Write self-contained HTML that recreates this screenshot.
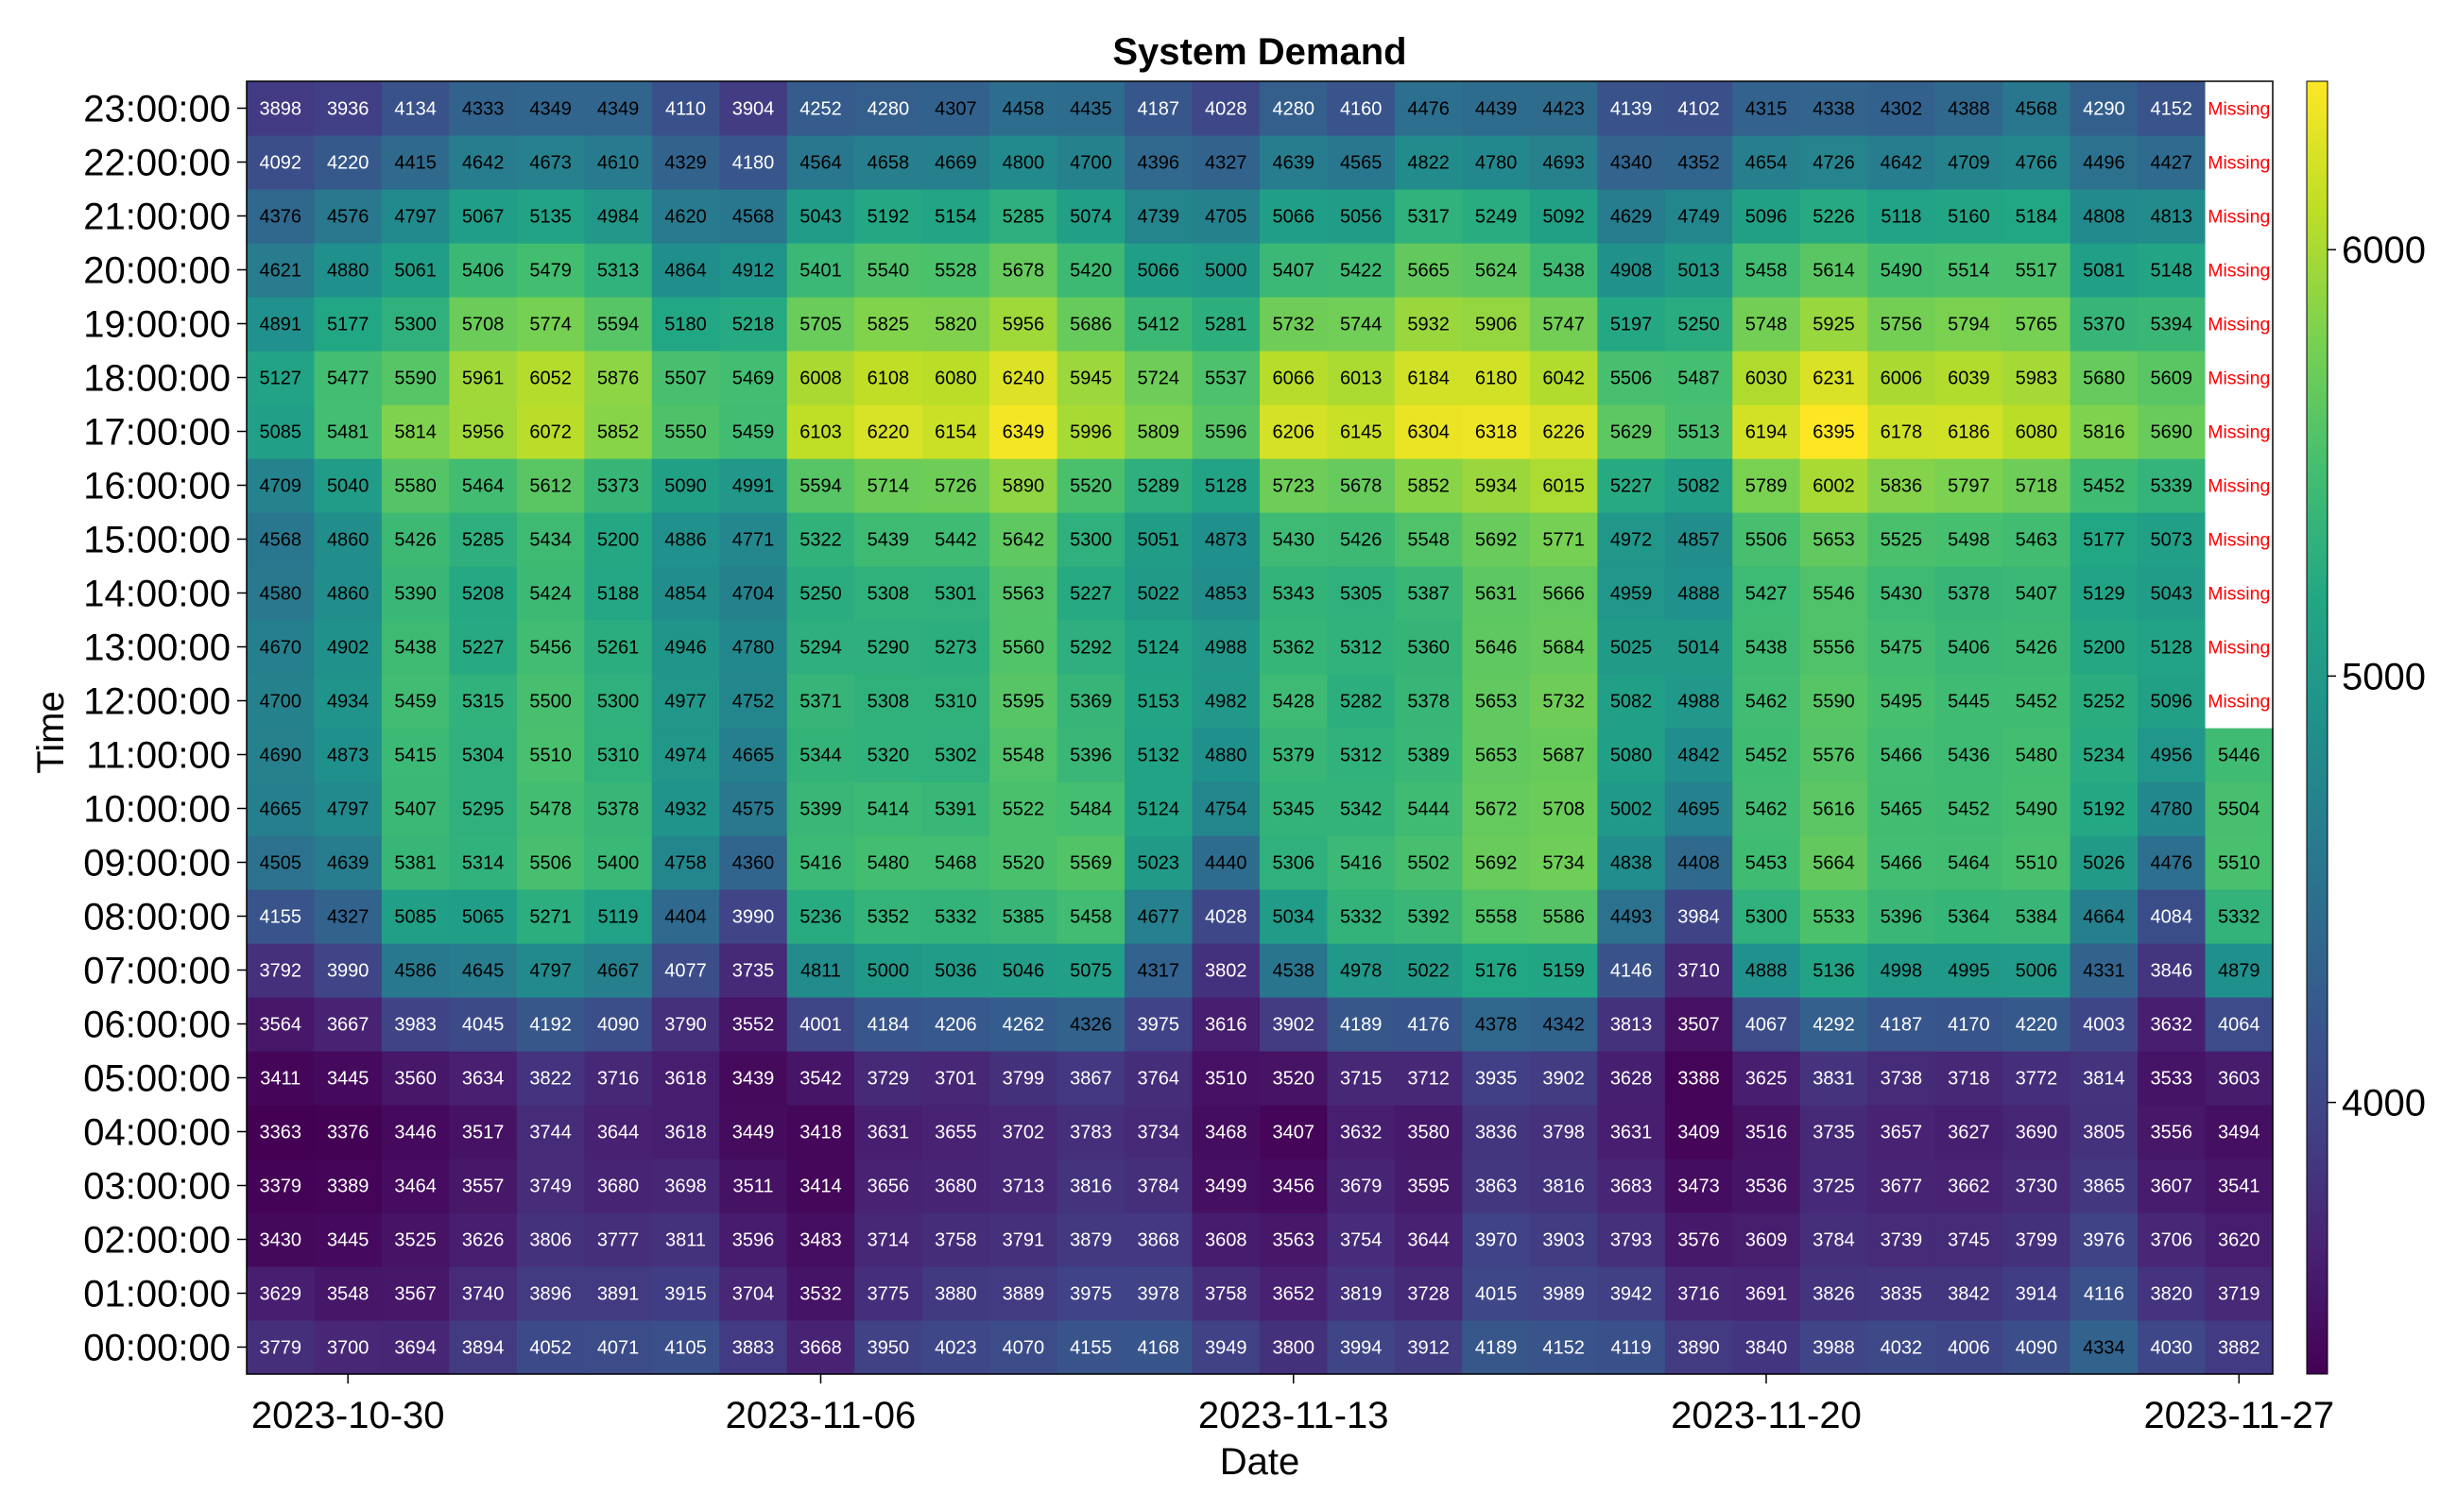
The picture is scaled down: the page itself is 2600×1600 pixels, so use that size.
<!DOCTYPE html>
<html><head><meta charset="utf-8"><style>
html,body{margin:0;padding:0;background:#fff;}
svg{display:block;font-family:"Liberation Sans","DejaVu Sans",sans-serif;}
</style></head><body>
<svg id="chart" width="2600" height="1600" viewBox="0 0 2600 1600" xmlns="http://www.w3.org/2000/svg">
<rect width="2600" height="1600" fill="#fff"/>
<text x="1333" y="68" text-anchor="middle" font-size="40" font-weight="bold">System Demand</text>
<text x="1333" y="1560" text-anchor="middle" font-size="40">Date</text>
<text transform="translate(67,775) rotate(-90)" text-anchor="middle" font-size="40">Time</text>
<g id="cells"></g>
<g id="yaxis"></g>
<g id="xaxis"></g>
<g id="cbar"></g>
</svg>
<script>
const dates = ["2023-10-29","2023-10-30","2023-10-31","2023-11-01","2023-11-02","2023-11-03","2023-11-04","2023-11-05","2023-11-06","2023-11-07","2023-11-08","2023-11-09","2023-11-10","2023-11-11","2023-11-12","2023-11-13","2023-11-14","2023-11-15","2023-11-16","2023-11-17","2023-11-18","2023-11-19","2023-11-20","2023-11-21","2023-11-22","2023-11-23","2023-11-24","2023-11-25","2023-11-26","2023-11-27"];
const hours = ["00:00:00","01:00:00","02:00:00","03:00:00","04:00:00","05:00:00","06:00:00","07:00:00","08:00:00","09:00:00","10:00:00","11:00:00","12:00:00","13:00:00","14:00:00","15:00:00","16:00:00","17:00:00","18:00:00","19:00:00","20:00:00","21:00:00","22:00:00","23:00:00"];
const xTickLabels = ["2023-10-30","2023-11-06","2023-11-13","2023-11-20","2023-11-27"];
const cbarTicks = [4000,5000,6000];
const M = null;
const h00=[3779,3700,3694,3894,4052,4071,4105,3883,3668,3950,4023,4070,4155,4168,3949,3800,3994,3912,4189,4152,4119,3890,3840,3988,4032,4006,4090,4334,4030,3882];
const h01=[3629,3548,3567,3740,3896,3891,3915,3704,3532,3775,3880,3889,3975,3978,3758,3652,3819,3728,4015,3989,3942,3716,3691,3826,3835,3842,3914,4116,3820,3719];
const h02=[3430,3445,3525,3626,3806,3777,3811,3596,3483,3714,3758,3791,3879,3868,3608,3563,3754,3644,3970,3903,3793,3576,3609,3784,3739,3745,3799,3976,3706,3620];
const h03=[3379,3389,3464,3557,3749,3680,3698,3511,3414,3656,3680,3713,3816,3784,3499,3456,3679,3595,3863,3816,3683,3473,3536,3725,3677,3662,3730,3865,3607,3541];
const h04=[3363,3376,3446,3517,3744,3644,3618,3449,3418,3631,3655,3702,3783,3734,3468,3407,3632,3580,3836,3798,3631,3409,3516,3735,3657,3627,3690,3805,3556,3494];
const h05=[3411,3445,3560,3634,3822,3716,3618,3439,3542,3729,3701,3799,3867,3764,3510,3520,3715,3712,3935,3902,3628,3388,3625,3831,3738,3718,3772,3814,3533,3603];
const h06=[3564,3667,3983,4045,4192,4090,3790,3552,4001,4184,4206,4262,4326,3975,3616,3902,4189,4176,4378,4342,3813,3507,4067,4292,4187,4170,4220,4003,3632,4064];
const h07=[3792,3990,4586,4645,4797,4667,4077,3735,4811,5000,5036,5046,5075,4317,3802,4538,4978,5022,5176,5159,4146,3710,4888,5136,4998,4995,5006,4331,3846,4879];
const h08=[4155,4327,5085,5065,5271,5119,4404,3990,5236,5352,5332,5385,5458,4677,4028,5034,5332,5392,5558,5586,4493,3984,5300,5533,5396,5364,5384,4664,4084,5332];
const h09=[4505,4639,5381,5314,5506,5400,4758,4360,5416,5480,5468,5520,5569,5023,4440,5306,5416,5502,5692,5734,4838,4408,5453,5664,5466,5464,5510,5026,4476,5510];
const h10=[4665,4797,5407,5295,5478,5378,4932,4575,5399,5414,5391,5522,5484,5124,4754,5345,5342,5444,5672,5708,5002,4695,5462,5616,5465,5452,5490,5192,4780,5504];
const h11=[4690,4873,5415,5304,5510,5310,4974,4665,5344,5320,5302,5548,5396,5132,4880,5379,5312,5389,5653,5687,5080,4842,5452,5576,5466,5436,5480,5234,4956,5446];
const h12=[4700,4934,5459,5315,5500,5300,4977,4752,5371,5308,5310,5595,5369,5153,4982,5428,5282,5378,5653,5732,5082,4988,5462,5590,5495,5445,5452,5252,5096,M];
const h13=[4670,4902,5438,5227,5456,5261,4946,4780,5294,5290,5273,5560,5292,5124,4988,5362,5312,5360,5646,5684,5025,5014,5438,5556,5475,5406,5426,5200,5128,M];
const h14=[4580,4860,5390,5208,5424,5188,4854,4704,5250,5308,5301,5563,5227,5022,4853,5343,5305,5387,5631,5666,4959,4888,5427,5546,5430,5378,5407,5129,5043,M];
const h15=[4568,4860,5426,5285,5434,5200,4886,4771,5322,5439,5442,5642,5300,5051,4873,5430,5426,5548,5692,5771,4972,4857,5506,5653,5525,5498,5463,5177,5073,M];
const h16=[4709,5040,5580,5464,5612,5373,5090,4991,5594,5714,5726,5890,5520,5289,5128,5723,5678,5852,5934,6015,5227,5082,5789,6002,5836,5797,5718,5452,5339,M];
const h17=[5085,5481,5814,5956,6072,5852,5550,5459,6103,6220,6154,6349,5996,5809,5596,6206,6145,6304,6318,6226,5629,5513,6194,6395,6178,6186,6080,5816,5690,M];
const h18=[5127,5477,5590,5961,6052,5876,5507,5469,6008,6108,6080,6240,5945,5724,5537,6066,6013,6184,6180,6042,5506,5487,6030,6231,6006,6039,5983,5680,5609,M];
const h19=[4891,5177,5300,5708,5774,5594,5180,5218,5705,5825,5820,5956,5686,5412,5281,5732,5744,5932,5906,5747,5197,5250,5748,5925,5756,5794,5765,5370,5394,M];
const h20=[4621,4880,5061,5406,5479,5313,4864,4912,5401,5540,5528,5678,5420,5066,5000,5407,5422,5665,5624,5438,4908,5013,5458,5614,5490,5514,5517,5081,5148,M];
const h21=[4376,4576,4797,5067,5135,4984,4620,4568,5043,5192,5154,5285,5074,4739,4705,5066,5056,5317,5249,5092,4629,4749,5096,5226,5118,5160,5184,4808,4813,M];
const h22=[4092,4220,4415,4642,4673,4610,4329,4180,4564,4658,4669,4800,4700,4396,4327,4639,4565,4822,4780,4693,4340,4352,4654,4726,4642,4709,4766,4496,4427,M];
const h23=[3898,3936,4134,4333,4349,4349,4110,3904,4252,4280,4307,4458,4435,4187,4028,4280,4160,4476,4439,4423,4139,4102,4315,4338,4302,4388,4568,4290,4152,M];
const values=[h00,h01,h02,h03,h04,h05,h06,h07,h08,h09,h10,h11,h12,h13,h14,h15,h16,h17,h18,h19,h20,h21,h22,h23];

const NS="http://www.w3.org/2000/svg";
const L=261,R=2405,T=86,B=1454;
const cw=(R-L)/dates.length, ch=(B-T)/hours.length;
let vmin=Infinity,vmax=-Infinity;
values.forEach(r=>r.forEach(v=>{if(v!==null){vmin=Math.min(vmin,v);vmax=Math.max(vmax,v);}}));
const dayMs=86400000, d0=Date.parse(dates[0]);
function xScale(dateStr){return L+((Date.parse(dateStr)-d0)/dayMs+0.5)*cw;}
function yScale(i){return B-(i+0.5)*ch;}
const vir=[[68,1,84],[72,35,116],[64,67,135],[52,94,141],[41,120,142],[32,144,140],[34,167,132],[68,190,112],[121,209,81],[189,222,38],[253,231,37]];
function color(v){let t=(v-vmin)/(vmax-vmin);t=Math.max(0,Math.min(1,t));const p=t*(vir.length-1);const i=Math.min(Math.floor(p),vir.length-2);const f=p-i;const a=vir[i],b=vir[i+1];return `rgb(${[0,1,2].map(k=>Math.round(a[k]+(b[k]-a[k])*f)).join(",")})`;}
function mk(tag,attrs,parent,text){const e=document.createElementNS(NS,tag);for(const k in attrs)e.setAttribute(k,attrs[k]);if(text!==undefined)e.textContent=text;parent.appendChild(e);return e;}

const cells=document.getElementById('cells');
values.forEach((row,i)=>{row.forEach((v,j)=>{
  const cx=xScale(dates[j]), cy=yScale(i);
  const r=mk('rect',{x:cx-cw/2,y:cy-ch/2,width:cw+0.6,height:ch+0.6,fill:v===null?'#ffffff':color(v)},cells);
  
  
  const t=mk('text',{x:cx,y:cy+7,'text-anchor':'middle','font-size':v===null?19.5:20,fill:v===null?'#ff0000':(v<4300?'#ffffff':'#000000')},cells,v===null?'Missing':String(v));
  
  
});});
mk('rect',{x:L,y:T,width:R-L,height:B-T,fill:'none',stroke:'#000','stroke-width':1.5},cells);

const ya=document.getElementById('yaxis');
hours.forEach((h,i)=>{const y=yScale(i);
  mk('line',{x1:L-10,x2:L,y1:y,y2:y,stroke:'#000','stroke-width':1.5},ya);
  const t=mk('text',{x:L-17,y:y+14,'text-anchor':'end','font-size':40},ya,h);
  
  
});
const xa=document.getElementById('xaxis');
xTickLabels.forEach(d=>{const x=xScale(d);
  mk('line',{x1:x,x2:x,y1:B,y2:B+10,stroke:'#000','stroke-width':1.5},xa);
  const t=mk('text',{x:x,y:B+57,'text-anchor':'middle','font-size':40},xa,d);
  
  
});

const cb=document.getElementById('cbar');
const CX=2441,CW=22;
const defs=mk('defs',{},cb);
const g=mk('linearGradient',{id:'vg',x1:0,y1:1,x2:0,y2:0},defs);
vir.forEach((c,i)=>mk('stop',{offset:i/(vir.length-1),'stop-color':`rgb(${c.join(',')})`},g));
mk('rect',{x:CX,y:T,width:CW,height:B-T,fill:'url(#vg)',stroke:'#000','stroke-width':1},cb);
function cScale(v){return B-(v-vmin)/(vmax-vmin)*(B-T);}
cbarTicks.forEach(v=>{const y=cScale(v);
  mk('line',{x1:CX+CW,x2:CX+CW+9,y1:y,y2:y,stroke:'#000','stroke-width':1.5},cb);
  const t=mk('text',{x:CX+CW+15,y:y+14,'font-size':40},cb,String(v));
  
  
});
</script>
</body></html>
